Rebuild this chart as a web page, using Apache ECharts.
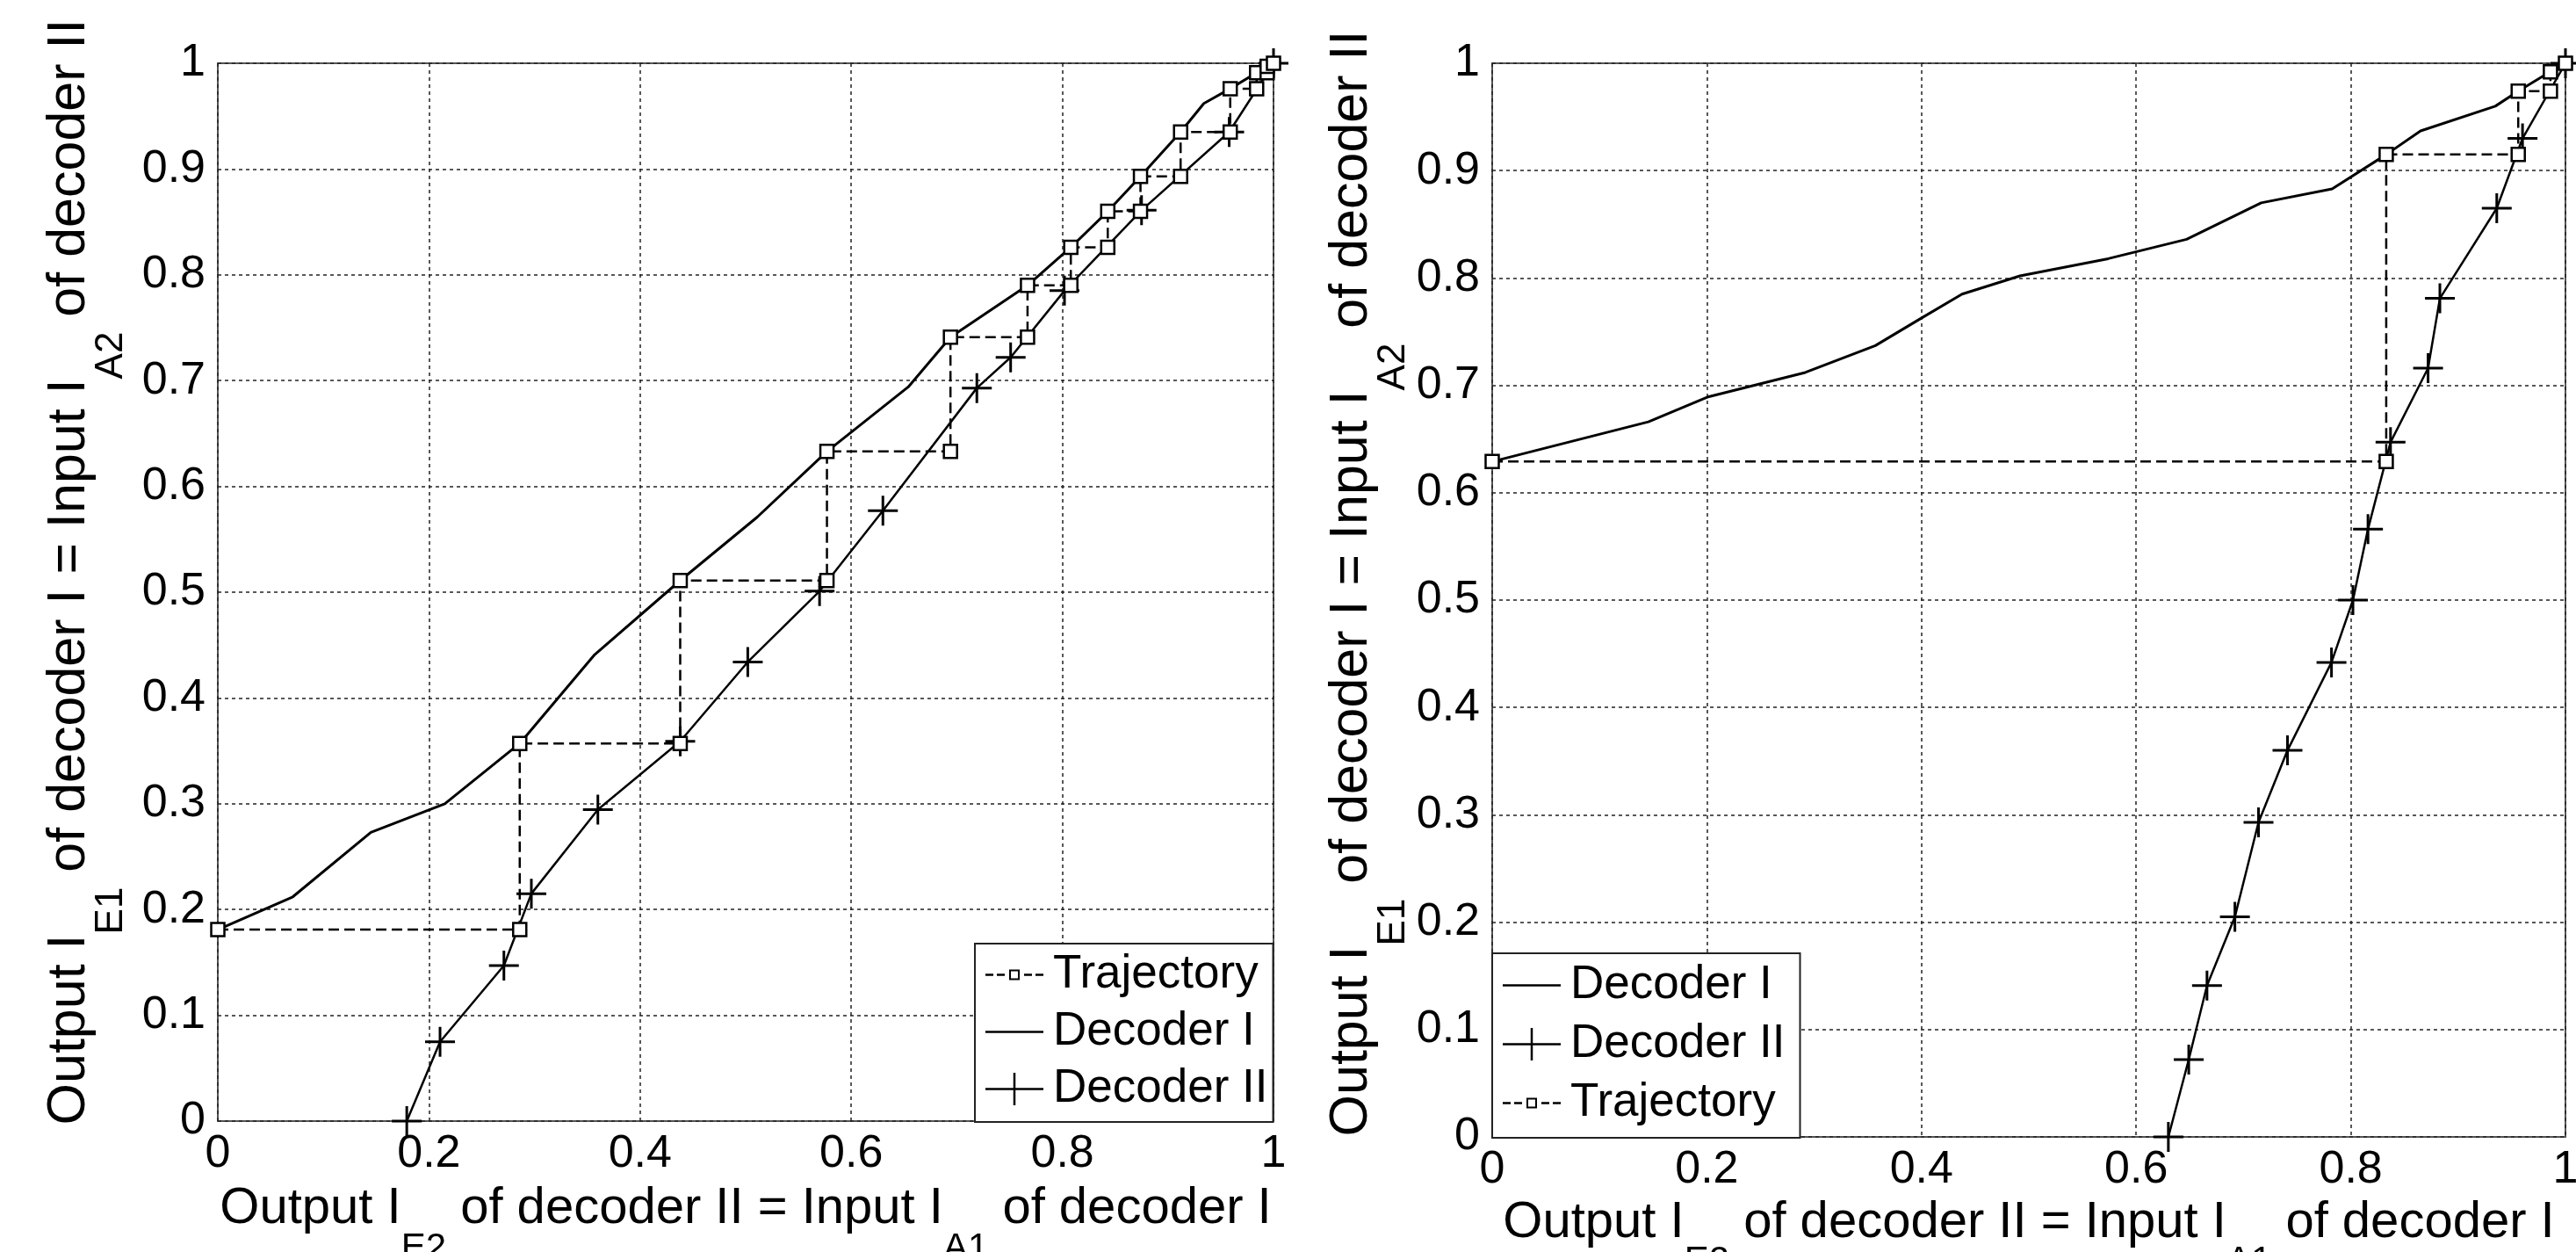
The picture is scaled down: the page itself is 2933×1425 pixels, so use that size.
<!DOCTYPE html>
<html>
<head>
<meta charset="utf-8">
<title>EXIT chart trajectories</title>
<script src="https://cdn.jsdelivr.net/npm/echarts@6/dist/echarts.min.js"></script>
<style>
  html, body { margin: 0; padding: 0; background: #fff; }
  #chart { width: 2933px; height: 1425px; }
</style>
</head>
<body>
<div id="chart"></div>
<script>
// tick values (both panels)
let xTicks = [0, 0.2, 0.4, 0.6, 0.8, 1];
let yTicks = [0, 0.1, 0.2, 0.3, 0.4, 0.5, 0.6, 0.7, 0.8, 0.9, 1];

// left panel
let decIL_x = [0, 0.071, 0.145, 0.215, 0.286, 0.357, 0.438, 0.511, 0.577, 0.654, 0.694, 0.767, 0.808, 0.843, 0.874, 0.912, 0.934, 0.959, 0.984, 1];
let decIL_y = [0.181, 0.212, 0.273, 0.300, 0.357, 0.441, 0.511, 0.571, 0.633, 0.694, 0.741, 0.790, 0.826, 0.860, 0.893, 0.935, 0.962, 0.976, 0.991, 1];

let decIIL_x = [0.179, 0.2105, 0.271, 0.297, 0.360, 0.438, 0.502, 0.570, 0.630, 0.719, 0.751, 0.802, 0.875, 0.958, 1];
let decIIL_y = [0, 0.075, 0.147, 0.215, 0.2945, 0.359, 0.434, 0.501, 0.577, 0.693, 0.722, 0.785, 0.861, 0.935, 1];

let trajL_x = [0, 0.286, 0.286, 0.438, 0.438, 0.577, 0.577, 0.694, 0.694, 0.767, 0.767, 0.808, 0.808, 0.843, 0.843, 0.874, 0.874, 0.912, 0.912, 0.959, 0.959, 0.984, 0.984, 0.994, 0.994, 1];
let trajL_y = [0.181, 0.181, 0.357, 0.357, 0.511, 0.511, 0.633, 0.633, 0.741, 0.741, 0.790, 0.790, 0.826, 0.826, 0.860, 0.860, 0.893, 0.893, 0.935, 0.935, 0.976, 0.976, 0.991, 0.991, 0.997, 1];

// right panel
let decIR_x = [0, 0.1455, 0.2003, 0.2917, 0.357, 0.4005, 0.4378, 0.4918, 0.574, 0.647, 0.7165, 0.7826, 0.833, 0.865, 0.9346, 0.956, 0.9857, 1];
let decIR_y = [0.629, 0.666, 0.689, 0.712, 0.737, 0.763, 0.785, 0.802, 0.818, 0.836, 0.870, 0.883, 0.915, 0.937, 0.960, 0.974, 0.992, 1];

let decIIR_x = [0.630, 0.649, 0.666, 0.692, 0.714, 0.741, 0.782, 0.802, 0.816, 0.837, 0.872, 0.883, 0.936, 0.960, 1];
let decIIR_y = [0, 0.072, 0.141, 0.205, 0.293, 0.360, 0.442, 0.500, 0.566, 0.647, 0.716, 0.781, 0.865, 0.930, 1];

let trajR_x = [0, 0.833, 0.833, 0.956, 0.956, 0.986, 0.986, 1];
let trajR_y = [0.629, 0.629, 0.915, 0.915, 0.974, 0.974, 0.992, 1];

let legendLeft = ['Trajectory', 'Decoder I', 'Decoder II'];
let legendRight = ['Decoder I', 'Decoder II', 'Trajectory'];

let FONT = '"Liberation Sans", Arial, sans-serif';
let PLUS = 'path://M0,10 L20,10 M10,0 L10,20';

let chart = echarts.init(document.getElementById('chart'));

function zip(xs, ys) {
  return xs.map(function (x, i) { return [x, ys[i]]; });
}

// axis titles with matlab-like subscripts
function richName(size, sub, drop) {
  return {
    n: { fontSize: size, fontFamily: FONT, color: '#000', lineHeight: size + 6, verticalAlign: 'top' },
    s: { fontSize: sub, fontFamily: FONT, color: '#000', lineHeight: sub, padding: [drop, 0, 0, 0], verticalAlign: 'top' }
  };
}
let xName = '{n|Output I}{s|E2}{n| of decoder II = Input I}{s|A1}{n| of decoder I}';
let yName = '{n|Output I}{s|E1}{n| of decoder I = Input I}{s|A2}{n| of decoder II}';

let gridLine = { show: true, lineStyle: { type: [4, 4], color: '#222', width: 1.5 } };

function xAxis(idx, gap) {
  return {
    gridIndex: idx, type: 'value',
    min: xTicks[0], max: xTicks[xTicks.length - 1], interval: xTicks[1] - xTicks[0],
    axisLine: { show: false }, axisTick: { show: false },
    axisLabel: { fontSize: 52, fontFamily: FONT, color: '#000', margin: 12 },
    splitLine: gridLine,
    name: xName, nameLocation: 'middle', nameGap: gap,
    nameTextStyle: { fontSize: 58, fontFamily: FONT, color: '#000', rich: richName(58, 42, 53) }
  };
}
function yAxis(idx, gap, shift) {
  return {
    gridIndex: idx, type: 'value',
    min: yTicks[0], max: yTicks[yTicks.length - 1], interval: yTicks[1] - yTicks[0],
    axisLine: { show: false }, axisTick: { show: false },
    axisLabel: { fontSize: 52, fontFamily: FONT, color: '#000', margin: 14 },
    splitLine: gridLine,
    name: yName, nameLocation: 'middle', nameGap: gap, nameRotate: 90,
    nameTextStyle: { fontSize: 61, fontFamily: FONT, color: '#000', padding: [0, 0, 0, shift], rich: richName(61, 44, 56) }
  };
}

function decI(idx, xs, ys) {
  return {
    name: 'Decoder I', type: 'line', xAxisIndex: idx, yAxisIndex: idx, data: zip(xs, ys),
    symbol: 'none', clip: false, z: 2, silent: true,
    lineStyle: { color: '#000', width: 3 }, itemStyle: { color: '#000' }
  };
}
function decII(idx, xs, ys) {
  return {
    name: 'Decoder II', type: 'line', xAxisIndex: idx, yAxisIndex: idx, data: zip(xs, ys),
    symbol: PLUS, symbolSize: 34, showAllSymbol: true, clip: false, z: 3, silent: true,
    lineStyle: { color: '#000', width: 2.5 },
    itemStyle: { color: 'rgba(0,0,0,0)', borderColor: '#000', borderWidth: 3 }
  };
}
function traj(idx, xs, ys) {
  return {
    name: 'Trajectory', type: 'line', xAxisIndex: idx, yAxisIndex: idx, data: zip(xs, ys),
    symbol: 'rect', symbolSize: 15, showAllSymbol: true, clip: false, z: 4, silent: true,
    lineStyle: { color: '#000', width: 2.5, type: [12, 6] },
    itemStyle: { color: '#fff', borderColor: '#000', borderWidth: 2.5 }
  };
}

// legend icons drawn like the matlab ones
let icons = {
  'Decoder I': 'path://M0,0 H66 V2.5 H0 Z',
  'Decoder II': 'path://M0,17.25 H66 V19.75 H0 Z M31.75,0 H34.25 V37 H31.75 Z',
  'Trajectory': 'path://M0,4.75 H9 V7.25 H0 Z M13,4.75 H22 V7.25 H13 Z M27,0 H39 V12 H27 Z M29,2 V10 H37 V2 Z M44,4.75 H53 V7.25 H44 Z M57,4.75 H66 V7.25 H57 Z'
};
function legendData(names) {
  return names.map(function (n) {
    return { name: n, icon: icons[n], itemStyle: { color: '#000', borderWidth: 0, opacity: 1 } };
  });
}
function legend(names, left, top, gap, pad) {
  return {
    data: legendData(names), orient: 'vertical', left: left, top: top,
    itemWidth: 66, itemHeight: 46, itemGap: gap, padding: pad,
    selectedMode: false, backgroundColor: '#fff', borderColor: '#222', borderWidth: 2,
    textStyle: { fontSize: 53, fontFamily: FONT, color: '#000', padding: [0, 0, 0, 6] }
  };
}

chart.setOption({
  animation: false,
  backgroundColor: '#fff',
  grid: [
    { left: 248, top: 72, width: 1202, height: 1204, containLabel: false, outerBoundsMode: 'none',
      show: true, borderColor: '#555', borderWidth: 2, backgroundColor: '#fff' },
    { left: 1699, top: 72, width: 1222, height: 1222, containLabel: false, outerBoundsMode: 'none',
      show: true, borderColor: '#555', borderWidth: 2, backgroundColor: '#fff' }
  ],
  xAxis: [xAxis(0, 71), xAxis(1, 61)],
  yAxis: [yAxis(0, 132, 46), yAxis(1, 86, 38)],
  legend: [
    legend(legendLeft, 1110, 1074, 12, [9, 6, 11, 12]),
    legend(legendRight, 1699, 1085, 14, [10, 17, 13, 12])
  ],
  series: [
    decI(0, decIL_x, decIL_y),
    decII(0, decIIL_x, decIIL_y),
    traj(0, trajL_x, trajL_y),
    decI(1, decIR_x, decIR_y),
    decII(1, decIIR_x, decIIR_y),
    traj(1, trajR_x, trajR_y)
  ]
});
</script>
</body>
</html>
